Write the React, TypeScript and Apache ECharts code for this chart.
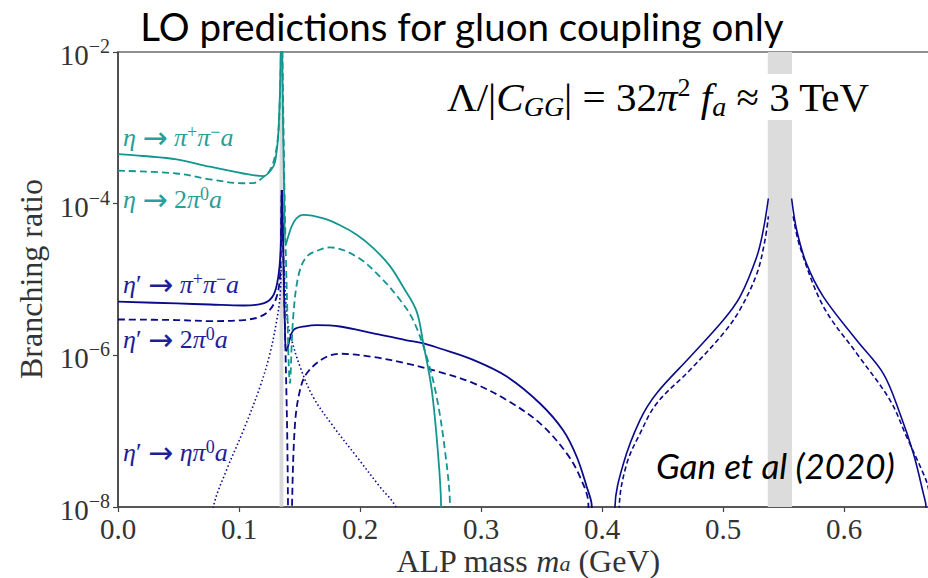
import React, { useEffect, useRef } from "react";
import * as echarts from "echarts";

// ---------- axes ----------
const xMin = 0;
const xMax = 0.7;
const xInterval = 0.1;
const yMin = 1e-8;
const yMax = 1e-2;

// shaded resonance bands (pi0 and eta masses)
const bandPi0 = [0.1335, 0.1367];
const bandEta = [0.537, 0.557];

// ---------- eta -> pi+ pi- a (teal solid) ----------
const etaPiPiLow = [[0, 4.5e-4], [0.0209, 4.25e-4], [0.0485, 3.84e-4], [0.076, 3.07e-4], [0.1036, 2.5e-4], [0.12, 2.31e-4], [0.1284, 3.1e-4], [0.131, 4.7e-4], [0.1325, 8.5e-4], [0.1335, 2e-3], [0.1343, 6e-3], [0.1348, 2e-2]];
const etaPiPiHigh = [[0.1355, 2e-2], [0.1362, 2e-3], [0.1372, 2e-4], [0.1385, 2.8e-5], [0.1405, 3.6e-5], [0.1435, 5e-5], [0.1477, 6.45e-5], [0.1531, 7.1e-5], [0.1697, 6.4e-5], [0.1835, 5.2e-5], [0.1973, 3.9e-5], [0.211, 2.6e-5], [0.2248, 1.5e-5], [0.2358, 7.9e-6], [0.2468, 3.8e-6], [0.2523, 1.44e-6], [0.2593, 3.5e-7], [0.2647, 4.6e-8], [0.267, 1.1e-8], [0.2675, 1e-9]];

// ---------- eta -> 2 pi0 a (teal dashed) ----------
const eta2Pi0Low = [[0, 2.72e-4], [0.0485, 2.5e-4], [0.076, 2.09e-4], [0.1036, 1.86e-4], [0.1118, 1.87e-4], [0.1201, 2.24e-4], [0.1256, 2.77e-4], [0.1297, 4.2e-4], [0.1325, 8.5e-4], [0.1338, 2.5e-3], [0.1345, 7e-3], [0.1349, 2e-2]];
const eta2Pi0High = [[0.1356, 2e-2], [0.1365, 2e-3], [0.1378, 1e-4], [0.1397, 5.4e-6], [0.1421, 4.3e-7], [0.1446, 2.9e-6], [0.149, 1.1e-5], [0.156, 2e-5], [0.1697, 2.57e-5], [0.175, 2.65e-5], [0.1973, 2e-5], [0.2165, 1.09e-5], [0.233, 5.4e-6], [0.244, 2.9e-6], [0.2551, 9.6e-7], [0.2634, 2.8e-7], [0.2702, 5.6e-8], [0.2744, 1.1e-8], [0.2752, 1e-9]];

// ---------- eta' -> pi+ pi- a (navy solid) ----------
const etapPiPiLow = [[0, 5.1e-6], [0.0485, 4.83e-6], [0.076, 4.68e-6], [0.1036, 4.54e-6], [0.1201, 4.83e-6], [0.1284, 6.2e-6], [0.1325, 1.1e-5], [0.1345, 2.7e-5], [0.1352, 1.5e-4]];
const etapPiPiMid = [[0.1356, 1.5e-4], [0.1365, 3e-5], [0.1378, 3e-6], [0.1394, 1.15e-6], [0.1449, 2.14e-6], [0.1559, 2.43e-6], [0.1642, 2.5e-6], [0.1835, 2.4e-6], [0.211, 1.95e-6], [0.2386, 1.58e-6], [0.2518, 1.45e-6], [0.2661, 1.23e-6], [0.2936, 8.7e-7], [0.3213, 5.25e-7], [0.349, 2.3e-7], [0.368, 1.02e-7], [0.3791, 4.6e-8], [0.3874, 1.84e-8], [0.3915, 1.05e-8], [0.3925, 1e-9]];
const etapPiPiEtaL = [[0.4103, 1e-9], [0.4107, 1e-8], [0.4176, 3.7e-8], [0.4314, 1.4e-7], [0.4452, 3.16e-7], [0.4727, 9.5e-7], [0.5003, 2.92e-6], [0.514, 5.9e-6], [0.5279, 2e-5], [0.5333, 4.5e-5], [0.5375, 1.17e-4]];
const etapPiPiEtaR = [[0.5567, 1.17e-4], [0.5609, 4.5e-5], [0.569, 1.62e-5], [0.583, 5.9e-6], [0.6105, 1.58e-6], [0.6325, 5.75e-7], [0.6463, 1.7e-7], [0.6573, 5.1e-8], [0.6656, 1.5e-8], [0.6678, 1e-8], [0.668, 1e-9]];

// ---------- eta' -> 2 pi0 a (navy dashed) ----------
const etap2Pi0Low = [[0, 2.97e-6], [0.0485, 2.92e-6], [0.076, 2.83e-6], [0.1036, 2.92e-6], [0.1174, 3.24e-6], [0.1256, 4e-6], [0.1311, 5.9e-6], [0.1339, 1.1e-5], [0.1348, 5e-5], [0.1353, 1.5e-4]];
const etap2Pi0Dip = [[0.1357, 1.5e-4], [0.1367, 2e-5], [0.1385, 1e-6], [0.1398, 1e-7], [0.1405, 1e-8], [0.1408, 1e-9]];
const etap2Pi0Mid = [[0.1432, 1e-9], [0.1438, 1e-8], [0.1463, 1.26e-7], [0.1504, 3.47e-7], [0.1559, 5.75e-7], [0.1697, 9.1e-7], [0.1835, 1.05e-6], [0.211, 9.5e-7], [0.2386, 7.8e-7], [0.2661, 6e-7], [0.2936, 4.3e-7], [0.3213, 2.57e-7], [0.349, 1.26e-7], [0.3708, 5.1e-8], [0.3818, 2.5e-8], [0.3887, 1.12e-8], [0.3895, 1e-9]];
const etap2Pi0EtaL = [[0.4139, 1e-9], [0.4143, 1e-8], [0.4204, 3.7e-8], [0.4314, 9.3e-8], [0.4452, 2.32e-7], [0.4727, 6.4e-7], [0.5003, 1.95e-6], [0.514, 4e-6], [0.528, 1.2e-5], [0.5347, 3.3e-5], [0.5375, 6.8e-5]];
const etap2Pi0EtaR = [[0.558, 6.8e-5], [0.5636, 2.7e-5], [0.583, 4.4e-6], [0.6105, 1.06e-6], [0.638, 2.57e-7], [0.6518, 8.4e-8], [0.6656, 2.75e-8], [0.6694, 1.86e-8], [0.676, 5e-9], [0.688, 1e-9]];

// ---------- eta' -> eta pi0 a (navy dotted) ----------
const etapEtaPi0Low = [[0.074, 2e-9], [0.0788, 1e-8], [0.0898, 3.1e-8], [0.1036, 1.02e-7], [0.1174, 3.85e-7], [0.1256, 1.06e-6], [0.1312, 2.9e-6], [0.1339, 5.9e-6], [0.1348, 1.5e-5]];
const etapEtaPi0High = [[0.1372, 1.5e-5], [0.1395, 3.5e-6], [0.1421, 1.95e-6], [0.1504, 7.1e-7], [0.1614, 2.8e-7], [0.178, 1.15e-7], [0.1973, 4.6e-8], [0.2165, 1.84e-8], [0.2289, 1.05e-8], [0.24, 4e-9]];

// ---------- text ----------
const titleText = "LO predictions for gluon coupling only";
const creditText = "Gan et al (2020)";
const yAxisTitle = "Branching ratio";

const TEAL = "#14958f";
const NAVY = "#0a0a8a";
const TEAL_TXT = "#2a9e99";
const NAVY_TXT = "#1e1e98";
const SERIF = '"Liberation Serif", "DejaVu Serif", serif';
const ARROWF = '"DejaVu Sans", sans-serif';
const SANS = 'Lato, "Open Sans", sans-serif';
const DASH = [7, 4];
const DOT = [1.5, 2.5];

const CHART_W = 970; // the plot continues past the right edge of the 928px picture
const CHART_H = 578;

function mkLine(data: number[][], color: string, type: any, width = 1.8, extra: any = {}) {
  return {
    type: "line",
    data,
    symbol: "none",
    showSymbol: false,
    smooth: 0.35,
    clip: true,
    silent: true,
    lineStyle: { color, width, type },
    z: 3,
    ...extra,
  };
}

function labelRich(color: string) {
  return {
    i: { fontFamily: SERIF, fontStyle: "italic", fontSize: 26, fill: color, lineHeight: 28 },
    n: { fontFamily: SERIF, fontSize: 26, fill: color, lineHeight: 28 },
    ar: { fontFamily: ARROWF, fontSize: 30, fill: color, lineHeight: 28 },
    s: { fontFamily: SERIF, fontSize: 18, fill: color, lineHeight: 10, verticalAlign: "top" },
  };
}

function curveLabel(text: string, y: number, color: string) {
  return {
    type: "text",
    x: 123,
    y,
    z: 20,
    style: { text, rich: labelRich(color), align: "left", verticalAlign: "middle", fill: color, font: `26px ${SERIF}` },
  };
}

export default function App() {
  const ref = useRef<HTMLDivElement>(null);
  useEffect(() => {
    const chart = echarts.init(ref.current!, undefined, { renderer: "svg", width: CHART_W, height: CHART_H });
    const option: any = {
      animation: false,
      backgroundColor: "#ffffff",
      grid: { left: 118, top: 52, bottom: 71, right: 5, show: true, borderColor: "#222", borderWidth: 1.2, backgroundColor: "transparent" },
      xAxis: {
        type: "value",
        min: xMin,
        max: xMax,
        interval: xInterval,
        axisLine: { show: true, onZero: false, lineStyle: { color: "#444", width: 1.5 } },
        axisTick: { show: true, length: 5, lineStyle: { color: "#444", width: 1.2 } },
        splitLine: { show: false },
        axisLabel: {
          margin: 9,
          fontFamily: SERIF,
          fontSize: 29,
          lineHeight: 26,
          color: "#333",
          formatter: (v: number) => (v > 0.65 ? "" : v.toFixed(1)),
        },
      },
      yAxis: {
        type: "log",
        logBase: 10,
        min: yMin,
        max: yMax,
        interval: 2,
        axisLine: { show: true, lineStyle: { color: "#444", width: 1.5 } },
        axisTick: { show: true, length: 5, lineStyle: { color: "#444", width: 1.2 } },
        splitLine: { show: false },
        minorTick: { show: false },
        axisLabel: {
          margin: 8,
          formatter: (v: number) => {
            const e = Math.round(Math.log10(v));
            return `{b|10}{s|−${Math.abs(e)}}`;
          },
          rich: {
            b: { fontFamily: SERIF, fontSize: 29, color: "#333", lineHeight: 32, padding: [6, 0, 0, 0] },
            s: { fontFamily: SERIF, fontSize: 20, color: "#333", lineHeight: 16, verticalAlign: "top" },
          },
        },
      },
      series: [
        mkLine(etapEtaPi0Low, NAVY, DOT, 1.6, {
          markArea: {
            silent: true,
            itemStyle: { color: "#dcdcdc" },
            data: [
              [{ xAxis: bandPi0[0], itemStyle: { color: "rgba(205,205,205,0.75)" } }, { xAxis: bandPi0[1] }],
              [{ xAxis: bandEta[0] }, { xAxis: bandEta[1] }],
            ],
          },
        }),
        mkLine(etapEtaPi0High, NAVY, DOT, 1.6),
        mkLine(etap2Pi0Low, NAVY, DASH),
        mkLine(etap2Pi0Dip, NAVY, DASH),
        mkLine(etap2Pi0Mid, NAVY, DASH),
        mkLine(etap2Pi0EtaL, NAVY, [5, 3], 1.6),
        mkLine(etap2Pi0EtaR, NAVY, [5, 3], 1.6),
        mkLine(etapPiPiLow, NAVY, "solid"),
        mkLine(etapPiPiMid, NAVY, "solid"),
        mkLine(etapPiPiEtaL, NAVY, "solid", 1.6),
        mkLine(etapPiPiEtaR, NAVY, "solid", 1.6),
        mkLine(eta2Pi0Low, TEAL, DASH),
        mkLine(eta2Pi0High, TEAL, DASH),
        mkLine(etaPiPiLow, TEAL, "solid"),
        mkLine(etaPiPiHigh, TEAL, "solid"),
      ],
      graphic: [
        {
          type: "text",
          x: 462,
          y: 26,
          z: 20,
          style: { text: titleText, font: `38.5px ${SANS}`, fill: "#000", align: "center", verticalAlign: "middle" },
        },
        {
          type: "text",
          x: 443,
          y: 97,
          z: 20,
          style: {
            text: "{n|Λ/|}{i|C}{sub|GG}{n|| = 32}{i|π}{sup|2}{n| }{i|f}{sub|a}{n| ≈ 3 TeV}",
            align: "left",
            verticalAlign: "middle",
            backgroundColor: "#ffffff",
            padding: [0, 4, 0, 4],
            font: `41px ${SERIF}`,
            fill: "#000",
            rich: {
              n: { fontFamily: SERIF, fontStyle: "normal", fontSize: 41, fill: "#000", lineHeight: 46 },
              i: { fontFamily: SERIF, fontStyle: "italic", fontSize: 41, fill: "#000", lineHeight: 46 },
              sub: { fontFamily: SERIF, fontStyle: "italic", fontSize: 28, fill: "#000", lineHeight: 28, verticalAlign: "bottom" },
              sup: { fontFamily: SERIF, fontSize: 26, fill: "#000", lineHeight: 19, verticalAlign: "top" },
            },
          },
        },
        {
          type: "text",
          x: 656,
          y: 465,
          z: 20,
          style: { text: creditText, font: `italic 35px ${SANS}`, fill: "#000", align: "left", verticalAlign: "middle" },
        },
        {
          type: "text",
          x: 31,
          y: 279,
          rotation: Math.PI / 2,
          z: 20,
          style: { text: yAxisTitle, font: `32px ${SERIF}`, fill: "#333", align: "center", verticalAlign: "middle" },
        },
        {
          type: "text",
          x: 528,
          y: 561,
          z: 20,
          style: {
            text: "{n|ALP mass }{i|m}{sub|a}{n| (GeV)}",
            align: "center",
            verticalAlign: "middle",
            font: `32px ${SERIF}`,
            fill: "#333",
            rich: {
              n: { fontFamily: SERIF, fontSize: 32, fill: "#333", lineHeight: 26 },
              i: { fontFamily: SERIF, fontStyle: "italic", fontSize: 32, fill: "#333", lineHeight: 26 },
              sub: { fontFamily: SERIF, fontStyle: "italic", fontSize: 22, fill: "#333", lineHeight: 14, verticalAlign: "bottom" },
            },
          },
        },
        curveLabel("{i|η}{n| }{ar|→}{n| }{i|π}{s|+}{i|π}{s|−}{i|a}", 137, TEAL_TXT),
        curveLabel("{i|η}{n| }{ar|→}{n| }{n|2}{i|π}{s|0}{i|a}", 199, TEAL_TXT),
        curveLabel("{i|η}{n|′ }{ar|→}{n| }{i|π}{s|+}{i|π}{s|−}{i|a}", 284, NAVY_TXT),
        curveLabel("{i|η}{n|′ }{ar|→}{n| }{n|2}{i|π}{s|0}{i|a}", 339, NAVY_TXT),
        curveLabel("{i|η}{n|′ }{ar|→}{n| }{i|ηπ}{s|0}{i|a}", 452, NAVY_TXT),
      ],
    };
    chart.setOption(option);
    return () => chart.dispose();
  }, []);
  return (
    <div style={{ position: "absolute", left: 0, top: 0, width: 928, height: 578, overflow: "hidden", background: "#fff" }}>
      <div ref={ref} style={{ width: CHART_W, height: CHART_H }} />
    </div>
  );
}
